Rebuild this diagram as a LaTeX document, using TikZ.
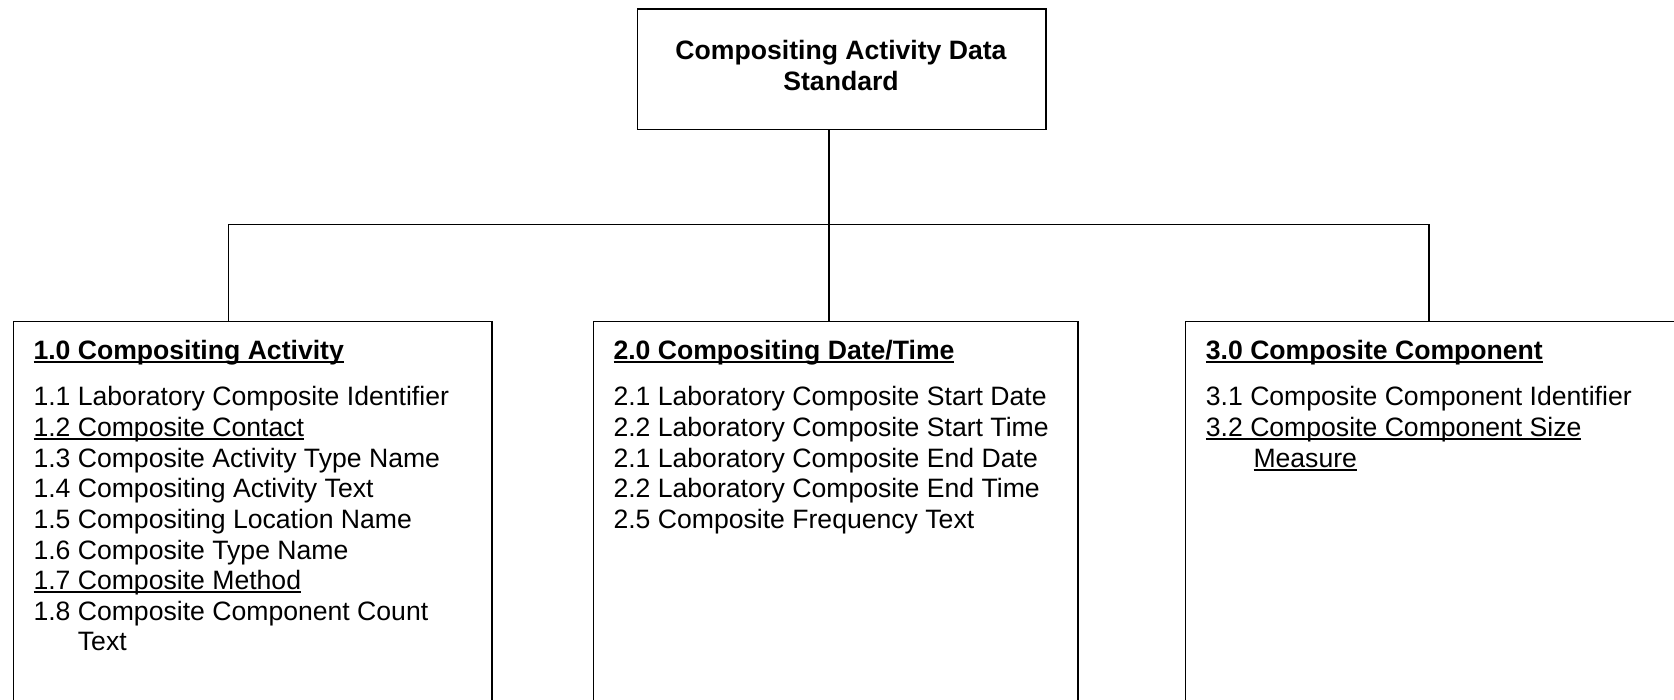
\documentclass[tikz,border=0pt]{standalone}
\usepackage{fontspec}
\setmainfont{Liberation Sans}
\newcommand\myul[1]{\setbox0\hbox{#1}\rlap{\rule[-3.6pt]{\wd0}{1.8pt}}\box0}
\tikzset{
  boxnode/.style={draw, line width=1.5pt, inner sep=0pt, anchor=north west},
  txt/.style={anchor=base west, inner sep=0pt, font=\fontsize{26.6}{30.6}\selectfont},
  ttl/.style={anchor=base west, inner sep=0pt, font=\fontsize{26.6}{30.6}\selectfont\bfseries},
  toptxt/.style={anchor=base, inner sep=0pt, font=\fontsize{26.6}{30.6}\selectfont\bfseries},
  conn/.style={line width=1.5pt}
}
\begin{document}
\begin{tikzpicture}[x=1pt,y=-1pt]
\useasboundingbox (0,0) rectangle (1674,700);
\clip (0,0) rectangle (1674,700);
% boxes
\node[boxnode, minimum width=408.6pt, minimum height=120.4pt] (top) at (636.7,8.3) {};
\node[boxnode, minimum width=478.3pt, minimum height=420pt] (b1) at (12.7,320.7) {};
\node[boxnode, minimum width=484.6pt, minimum height=420pt] (b2) at (592.7,320.7) {};
\node[boxnode, minimum width=540pt, minimum height=420pt] (b3) at (1184.7,320.7) {};
% top text
\node[toptxt] (tt1) at (841,60) {Compositing Activity Data};
\node[toptxt] (tt2) at (841,90.7) {Standard};
% connectors
\coordinate (d1) at (228.7,224.7);
\coordinate (d2) at (829,224.7);
\coordinate (d3) at (1429,224.7);
\draw[conn] (d2 |- top.south) -- (d2 |- b2.north);
\draw[conn] (d1 |- b1.north) -- (d1) -- (d3) -- (d3 |- b3.north);
% box 1
\node[ttl] (h1) at (33.3,359.5) {\myul{1.0 Compositing Activity}};
\foreach \t [count=\i] in {1.1 Laboratory Composite Identifier,
  {\myul{1.2 Composite Contact}},
  1.3 Composite Activity Type Name,
  1.4 Compositing Activity Text,
  1.5 Compositing Location Name,
  1.6 Composite Type Name,
  {\myul{1.7 Composite Method}},
  1.8 Composite Component Count}
  \node[txt] (a\i) at (33.3,{406+(\i-1)*30.6}) {\t};
\node[txt] (a9) at (77.7,650.8) {Text};
% box 2
\node[ttl] (h2) at (613.3,359.5) {\myul{2.0 Compositing Date/Time}};
\foreach \t [count=\i] in {2.1 Laboratory Composite Start Date,
  2.2 Laboratory Composite Start Time,
  2.1 Laboratory Composite End Date,
  2.2 Laboratory Composite End Time,
  2.5 Composite Frequency Text}
  \node[txt] (c\i) at (613.3,{406+(\i-1)*30.6}) {\t};
% box 3
\node[ttl] (h3) at (1205.7,359.5) {\myul{3.0 Composite Component}};
\node[txt] (e1) at (1205.7,406) {3.1 Composite Component Identifier};
\node[txt] (e2) at (1205.7,436.6) {\myul{3.2 Composite Component Size}};
\node[txt] (e3) at (1253.3,467.2) {\myul{Measure}};
\end{tikzpicture}
\end{document}
